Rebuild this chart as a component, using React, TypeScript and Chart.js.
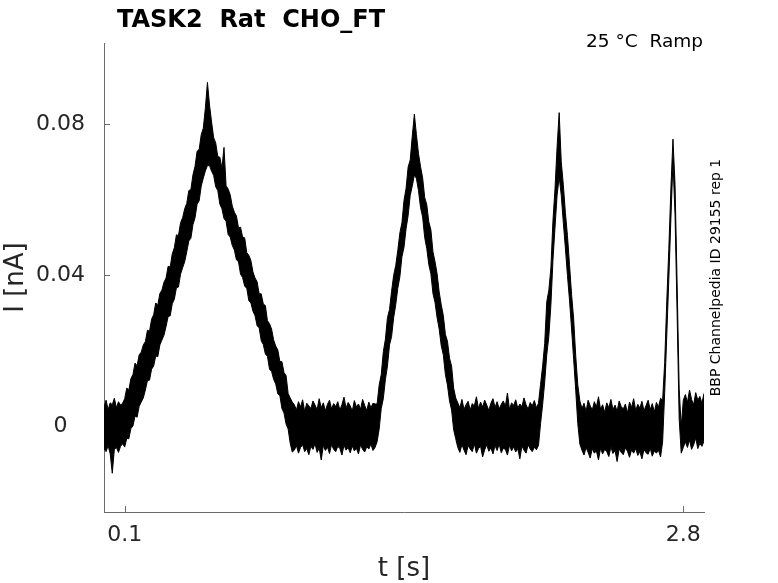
import { useEffect, useRef } from "react";
import { Chart, registerables } from "chart.js";

Chart.register(...registerables);

// recorded trace, sampled every 10 ms from t = 0 to 2.9 s
const T_STEP = 0.01;
// envelope values are in units of 1e-4 nA
const UNIT = 1e-4;

// upper edge of the noisy current band
const traceHigh = [
  // 0.00 - 0.09 baseline
  52, 70, 45, 63, 58, 75, 50, 66, 57, 62,
  // 0.10 - 0.50 first ramp up
  74, 102, 97, 127, 138, 168, 161, 190, 197, 216,
  225, 255, 252, 284, 296, 327, 321, 352, 361, 382,
  393, 424, 422, 457, 473, 507, 505, 539, 552, 576,
  590, 624, 627, 666, 688, 728, 733, 772, 789, 843,
  910,
  // 0.51 - 0.91 first ramp down
  850, 805, 764, 750, 714, 712, 683, 738, 637, 628,
  613, 583, 567, 557, 526, 527, 501, 499, 460, 453,
  439, 409, 393, 383, 351, 351, 324, 320, 280, 272,
  258, 229, 213, 203, 172, 172, 143, 135, 88, 76,
  65,
  // 0.92 - 1.31 baseline
  58, 44, 66, 52, 71, 40, 62, 55, 48, 68,
  57, 45, 74, 50, 63, 42, 59, 70, 47, 61,
  53, 66, 44, 58, 78, 49, 64, 55, 41, 69,
  52, 60, 46, 72, 56, 43, 65, 50, 62, 60,
  // 1.32 - 1.70 second ramp
  60, 110, 138, 198, 231, 288, 310, 358, 400, 426,
  466, 512, 539, 598, 630, 686, 705, 768, 826, 772,
  722, 687, 658, 606, 587, 541, 520, 462, 436, 404,
  356, 322, 294, 244, 226, 181, 160, 102, 76,
  // 1.71 - 2.09 baseline
  63, 50, 72, 46, 58, 67, 44, 61, 55, 79,
  48, 65, 52, 70, 57, 43, 62, 74, 51, 66,
  47, 59, 68, 54, 89, 45, 63, 56, 71, 49,
  60, 53, 76, 58, 46, 64, 55, 69, 50,
  // 2.10 - 2.30 third ramp
  62, 112, 160, 220, 330, 360, 420, 545, 630, 740,
  830, 700, 640, 566, 505, 428, 349, 285, 187, 110,
  68,
  // 2.31 - 2.69 baseline
  48, 62, 40, 70, 55, 44, 66, 52, 79, 46,
  58, 38, 63, 50, 72, 45, 57, 41, 68, 53,
  47, 60, 36, 65, 51, 74, 43, 59, 49, 67,
  42, 56, 70, 45, 61, 39, 64, 52, 75,
  // 2.70 - 2.80 fourth ramp
  70, 170, 330, 470, 630, 760, 640, 380, 100, 0,
  70,
  // 2.81 - 2.90 baseline
  85, 64, 97, 72, 58, 90, 70, 80, 62, 88,
];

// lower edge of the noisy current band
const traceLow = [
  -58, -66, -50, -72, -123, -60, -55, -68, -52, -45,
  -54, -31, -32, -5, 2, 28, 25, 54, 65, 76,
  97, 122, 123, 152, 160, 187, 185, 216, 229, 242,
  265, 291, 293, 325, 337, 367, 369, 403, 420, 436,
  462, 491, 498, 534, 552, 588, 597, 636, 657, 676,
  690,
  690, 675, 664, 634, 624, 588, 576, 550, 543, 508,
  501, 479, 467, 441, 436, 403, 394, 371, 366, 333,
  327, 305, 293, 267, 261, 227, 217, 192, 186, 152,
  146, 125, 113, 87, 82, 48, 36, 7, -6, -44,
  -67,
  -62, -50, -70, -55, -48, -66, -58, -74, -52, -60,
  -45, -68, -57, -88, -50, -63, -54, -71, -47, -60,
  -66, -52, -58, -75, -49, -62, -55, -69, -51, -64,
  -57, -72, -48, -60, -67, -53, -59, -46, -63, -55,
  -40, -6, 48, 74, 124, 160, 216, 238, 288, 322,
  366, 396, 449, 474, 523, 558, 611, 636, 665, 656,
  624, 579, 554, 500, 471, 428, 404, 352, 328, 288,
  258, 214, 190, 138, 110, 68, 44, -8, -32,
  -55, -68, -47, -62, -74, -50, -59, -66, -45, -70,
  -58, -52, -80, -61, -48, -65, -56, -72, -50, -63,
  -46, -69, -57, -60, -75, -49, -64, -53, -67, -58,
  -85, -51, -62, -70, -48, -59, -66, -54, -61,
  -50, 8, 58, 118, 190, 238, 322, 440, 528, 612,
  660, 612, 540, 472, 400, 334, 258, 178, 96, 8,
  -46,
  -62, -75, -55, -68, -83, -58, -70, -64, -88, -57,
  -72, -60, -66, -79, -54, -71, -63, -92, -59, -68,
  -74, -56, -65, -81, -61, -70, -58, -76, -66, -85,
  -60, -69, -73, -57, -78, -64, -70, -62, -80,
  -40, 90, 240, 390, 550, 700, 560, 300, 20, -70,
  -55,
  -40, -55, -35, -60, -48, -30, -58, -44, -52, -38,
];

const xTicks = [0.1, 2.8];
const xTickLabels = ["0.1", "2.8"];
const yTicks = [0, 0.04, 0.08];
const yTickLabels = ["0", "0.04", "0.08"];

const FONT = "DejaVu Sans";
const TEXT_COLOR = "#262626";
const AXIS_COLOR = "#6b6b6b";

const toPoints = (vals: number[]) =>
  vals.map((v, i) => ({ x: +(i * T_STEP).toFixed(2), y: v * UNIT }));

// inward tick marks + title and side notes
const decorations = {
  id: "decorations",
  beforeDatasetsDraw(chart: any) {
    const { ctx, chartArea, scales } = chart;
    ctx.save();
    ctx.strokeStyle = AXIS_COLOR;
    ctx.lineWidth = 1;
    ctx.beginPath();
    for (const v of xTicks) {
      const px = Math.round(scales.x.getPixelForValue(v)) + 0.5;
      ctx.moveTo(px, chartArea.bottom);
      ctx.lineTo(px, chartArea.bottom - 6);
    }
    for (const v of yTicks) {
      const py = Math.round(scales.y.getPixelForValue(v)) + 0.5;
      ctx.moveTo(chartArea.left, py);
      ctx.lineTo(chartArea.left + 6, py);
    }
    ctx.stroke();
    ctx.restore();
  },
  afterDraw(chart: any) {
    const { ctx, chartArea } = chart;
    ctx.save();
    ctx.fillStyle = "#000";
    ctx.textBaseline = "alphabetic";

    ctx.font = `bold 24px "${FONT}"`;
    ctx.textAlign = "left";
    ctx.fillText("TASK2  Rat  CHO_FT", chartArea.left + 13, 27);

    ctx.font = `18.5px "${FONT}"`;
    ctx.textAlign = "right";
    ctx.fillText("25 °C  Ramp", chartArea.right - 1, 47);

    ctx.font = `14px "${FONT}"`;
    ctx.textAlign = "center";
    ctx.translate(chartArea.right + 16, (chartArea.top + chartArea.bottom) / 2);
    ctx.rotate(-Math.PI / 2);
    ctx.fillText("BBP Channelpedia ID 29155 rep 1", 0, 0);
    ctx.restore();
  },
};

export default function App() {
  const canvasRef = useRef<HTMLCanvasElement | null>(null);
  const chartRef = useRef<Chart | null>(null);

  useEffect(() => {
    const ctx = canvasRef.current?.getContext("2d");
    if (!ctx) return;
    chartRef.current?.destroy();

    chartRef.current = new Chart(ctx, {
      type: "line",
      data: {
        datasets: [
          {
            data: toPoints(traceLow),
            borderColor: "#000",
            borderWidth: 1,
            pointRadius: 0,
            fill: false,
          },
          {
            data: toPoints(traceHigh),
            borderColor: "#000",
            backgroundColor: "#000",
            borderWidth: 1,
            pointRadius: 0,
            fill: "-1",
          },
        ],
      },
      options: {
        animation: false,
        responsive: true,
        maintainAspectRatio: false,
        layout: { padding: { top: 43, right: 74, left: 0, bottom: 0 } },
        plugins: {
          legend: { display: false },
          tooltip: { enabled: false },
        },
        elements: { line: { tension: 0 } },
        scales: {
          x: {
            type: "linear",
            min: 0,
            max: 2.9,
            afterBuildTicks: (scale: any) => {
              scale.ticks = xTicks.map((value) => ({ value }));
            },
            afterFit: (scale: any) => {
              scale.height = 71;
            },
            grid: { display: false },
            border: { display: true, color: AXIS_COLOR, width: 1 },
            ticks: {
              autoSkip: false,
              maxRotation: 0,
              padding: 2,
              color: TEXT_COLOR,
              font: { family: FONT, size: 22 },
              callback: (v: any) => xTickLabels[xTicks.indexOf(v)] ?? "",
            },
            title: {
              display: true,
              text: "t [s]",
              color: TEXT_COLOR,
              font: { family: FONT, size: 26 },
              padding: { top: 0, bottom: -2 },
            },
          },
          y: {
            type: "linear",
            min: -0.02255,
            max: 0.1014,
            afterBuildTicks: (scale: any) => {
              scale.ticks = yTicks.map((value) => ({ value }));
            },
            afterFit: (scale: any) => {
              scale.width = 104;
            },
            grid: { display: false },
            border: { display: true, color: AXIS_COLOR, width: 1 },
            ticks: {
              crossAlign: "center",
              padding: 11,
              color: TEXT_COLOR,
              font: { family: FONT, size: 22 },
              callback: (v: any) => yTickLabels[yTicks.indexOf(v)] ?? "",
            },
            title: {
              display: true,
              text: "I [nA]",
              color: TEXT_COLOR,
              font: { family: FONT, size: 26 },
              padding: { top: 1, bottom: 0 },
            },
          },
        },
      },
      plugins: [decorations],
    });

    return () => {
      chartRef.current?.destroy();
      chartRef.current = null;
    };
  }, []);

  return (
    <div style={{ position: "absolute", left: 0, top: 0, width: 778, height: 583, background: "#fff" }}>
      <canvas ref={canvasRef} />
    </div>
  );
}
